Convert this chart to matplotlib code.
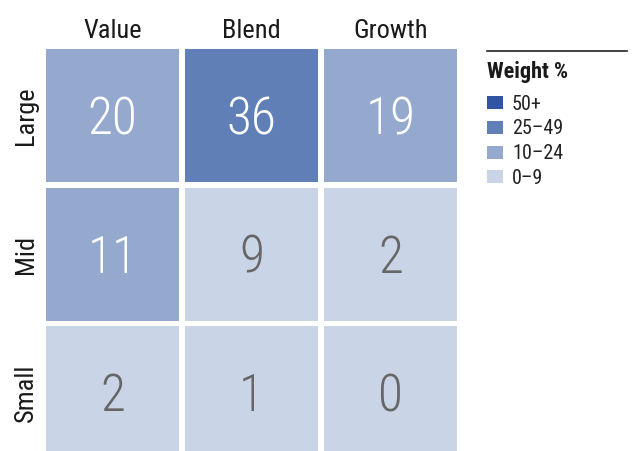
import matplotlib
matplotlib.use("Agg")
import matplotlib.pyplot as plt
from matplotlib import font_manager
from matplotlib.patches import Rectangle
import matplotlib.transforms as mtransforms

# style box data
col_labels = ["Value", "Blend", "Growth"]
row_labels = ["Large", "Mid", "Small"]
weights = [[20, 36, 19],
           [11, 9, 2],
           [2, 1, 0]]

legend_title = "Weight %"
legend_labels = ["50+", "25\u201349", "10\u201324", "0\u20139"]
legend_lows = [50, 25, 10, 0]
legend_colors = ["#2F55A4", "#5F7FB6", "#95A9CF", "#C9D4E6"]

# pick a narrow font if one is around
names = set(f.name for f in font_manager.fontManager.ttflist)
fam = "DejaVu Sans"
for cand in ["Roboto Condensed", "Liberation Sans Narrow", "Arial Narrow", "Open Sans Condensed"]:
    if cand in names:
        fam = cand
        break
plt.rcParams['font.family'] = [fam, "DejaVu Sans"]


def cell_color(v):
    for lo, c in zip(legend_lows, legend_colors):
        if v >= lo:
            return c
    return legend_colors[-1]


W, H = 635, 451
fig = plt.figure(figsize=(W / 100, H / 100), dpi=100)

# grid axes, in cell units (pitch ~139 px, gap ~5.5 px)
pitch_x, pitch_y, gap = 139.0, 138.5, 5.5
left, top = 43.0, 46.3
ax = fig.add_axes([left / W, (H - top - 3 * pitch_y) / H, 3 * pitch_x / W, 3 * pitch_y / H])
ax.set_xlim(-0.5, 2.5)
ax.set_ylim(2.5, -0.5)
ax.axis("off")

gx = gap / pitch_x
gy = gap / pitch_y
for i, row in enumerate(weights):
    for j, v in enumerate(row):
        ax.add_patch(Rectangle((j - 0.5 + gx / 2, i - 0.5 + gy / 2), 1 - gx, 1 - gy,
                               facecolor=cell_color(v), edgecolor="none"))
        tc = "white" if v >= 10 else "#666666"
        off = mtransforms.offset_copy(ax.transData, fig=fig, x=0, y=-13.5, units="points")
        ax.text(j, i, str(v), transform=off, ha="center", va="baseline",
                fontsize=37, fontweight="light", color=tc)

for j, lab in enumerate(col_labels):
    ax.annotate(lab, xy=(j, H - 38.5), xycoords=("data", "figure pixels"),
                ha="center", va="baseline", fontsize=19, color="#1a1a1a")
for i, lab in enumerate(row_labels):
    ax.annotate(lab, xy=(26, i), xycoords=("figure pixels", "data"),
                ha="center", va="center", rotation=90, fontsize=19, color="#1a1a1a")

# legend drawn on a pixel overlay
lg = fig.add_axes([0, 0, 1, 1])
lg.set_xlim(0, W)
lg.set_ylim(H, 0)
lg.axis("off")
lg.plot([487, 627], [50.5, 50.5], color="#222222", lw=1.2)
lg.text(487, 78, legend_title, fontsize=16, fontweight="bold", va="baseline", color="#1a1a1a")
for k, (lab, c) in enumerate(zip(legend_labels, legend_colors)):
    yc = 102.7 + k * 24.7
    lg.add_patch(Rectangle((487, yc - 6.5), 16, 13, facecolor=c, edgecolor="none"))
    lg.text(512, yc + 6.8, lab, fontsize=14.5, va="baseline", color="#222222")

fig.savefig("out.png", dpi=100)
